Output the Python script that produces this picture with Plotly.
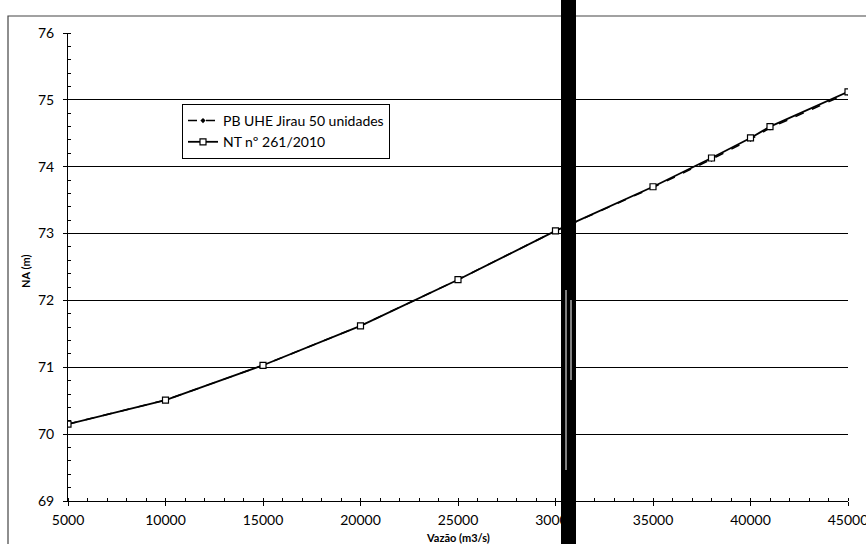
import plotly.graph_objects as go

vazao = [5000, 10000, 15000, 20000, 25000, 30000, 35000, 38000, 40000, 41000, 45000]
na_pb = [70.15, 70.51, 71.03, 71.62, 72.31, 73.04, 73.69, 74.11, 74.41, 74.58, 75.10]
na_nt = [70.15, 70.51, 71.03, 71.62, 72.31, 73.04, 73.70, 74.13, 74.43, 74.60, 75.12]
x_ticks = [5000, 10000, 15000, 20000, 25000, 30000, 35000, 40000, 45000]
y_ticks = [69, 70, 71, 72, 73, 74, 75, 76]

FONT = "Lato, 'Open Sans', sans-serif"
W, H = 866, 544
L, R, T, B = 68, 18, 33, 43
PW, PH = W - L - R, H - T - B

def px(x):
    return (x - L) / PW

def py(y):
    return (H - B - y) / PH

fig = go.Figure()
fig.add_trace(go.Scatter(
    x=vazao, y=na_pb, name="PB UHE Jirau 50 unidades", mode="lines+markers",
    line=dict(color="black", width=1.5, dash="dash"),
    marker=dict(symbol="diamond", size=4, color="black"),
))
fig.add_trace(go.Scatter(
    x=vazao, y=na_nt, name="NT nº 261/2010", mode="lines+markers",
    line=dict(color="black", width=1.8),
    marker=dict(symbol="square", size=6, color="white", line=dict(width=1.2, color="black")),
))

shapes = [
    # outer chart frame
    dict(type="rect", xref="paper", yref="paper", x0=px(8), x1=px(900), y0=py(600), y1=py(16),
         line=dict(color="#444", width=1.2), layer="below"),
    # scanning artifact: thick black vertical band
    dict(type="rect", xref="paper", yref="paper", x0=px(561), x1=px(576), y0=py(548), y1=py(-4),
         line=dict(width=0), fillcolor="black", layer="above"),
    dict(type="line", xref="paper", yref="paper", x0=px(566), x1=px(566), y0=py(470), y1=py(290),
         line=dict(color="white", width=1), layer="above"),
    dict(type="line", xref="paper", yref="paper", x0=px(571), x1=px(571), y0=py(380), y1=py(300),
         line=dict(color="white", width=1), layer="above"),
]

annotations = [
    dict(text="<b>NA (m)</b>", xref="paper", yref="paper", x=px(25), y=py(272),
         xanchor="center", yanchor="middle",
         textangle=-90, showarrow=False, font=dict(size=11, family=FONT, color="black")),
    dict(text="<b>Vazão (m3/s)</b>", xref="paper", yref="paper", x=px(458), y=py(537),
         xanchor="center", yanchor="middle",
         showarrow=False, font=dict(size=11, family=FONT, color="black")),
]

fig.update_layout(
    width=W, height=H, autosize=False,
    margin=dict(l=L, r=R, t=T, b=B, autoexpand=False),
    paper_bgcolor="white", plot_bgcolor="white",
    font=dict(family=FONT, size=14, color="black"),
    showlegend=True,
    legend=dict(x=px(182), y=py(104), xanchor="left", yanchor="top",
                bgcolor="white", bordercolor="black", borderwidth=1,
                font=dict(size=14, family=FONT), tracegroupgap=0,
                itemwidth=30),
    shapes=shapes, annotations=annotations,
    xaxis=dict(range=[5000, 45000], tickvals=x_ticks, ticktext=[str(v) for v in x_ticks],
               showgrid=False, zeroline=False, showline=True, linecolor="black", linewidth=1,
               ticks="outside", ticklen=4, tickcolor="black", ticklabeloverflow="allow",
               automargin=False,
               minor=dict(dtick=1000, ticks="inside", ticklen=3, tickcolor="black", showgrid=False),
               tickfont=dict(size=14, family=FONT), ticklabelstandoff=2),
    yaxis=dict(range=[69, 76], tickvals=y_ticks, showgrid=True, gridcolor="black", gridwidth=1,
               zeroline=False, showline=True, linecolor="black", linewidth=1,
               ticks="outside", ticklen=4, tickcolor="black", automargin=False,
               minor=dict(dtick=0.2, ticks="inside", ticklen=3, tickcolor="black", showgrid=False),
               tickfont=dict(size=14, family=FONT), ticklabelstandoff=6),
)

fig.write_html("out.html", config={"displayModeBar": False},
               post_script="document.body.style.margin='0px';")
